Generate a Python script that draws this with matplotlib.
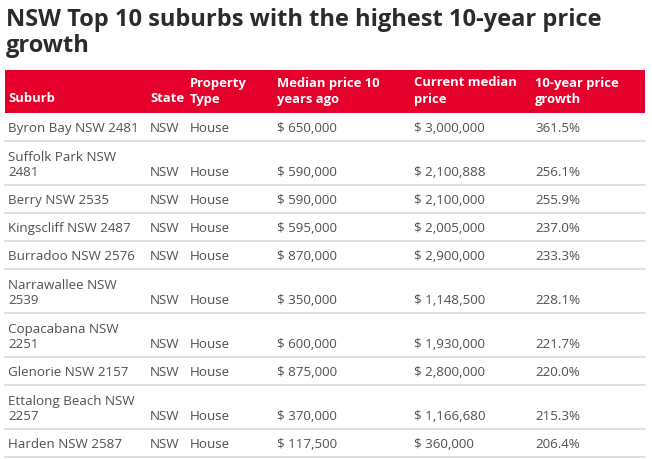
import matplotlib
matplotlib.use("Agg")
import matplotlib.pyplot as plt
from matplotlib.patches import Rectangle

# ---- data ----
title_lines = ["NSW Top 10 suburbs with the highest 10-year price", "growth"]
headers = [["Suburb"], ["State"], ["Property", "Type"], ["Median price 10", "years ago"],
           ["Current median", "price"], ["10-year price", "growth"]]
suburbs = ["Byron Bay NSW 2481", "Suffolk Park NSW 2481", "Berry NSW 2535", "Kingscliff NSW 2487",
           "Burradoo NSW 2576", "Narrawallee NSW 2539", "Copacabana NSW 2251", "Glenorie NSW 2157",
           "Ettalong Beach NSW 2257", "Harden NSW 2587"]
states = ["NSW"] * 10
property_types = ["House"] * 10
median_10y = [650000, 590000, 590000, 595000, 870000, 350000, 600000, 875000, 370000, 117500]
current_median = [3000000, 2100888, 2100000, 2005000, 2900000, 1148500, 1930000, 2800000, 1166680, 360000]
growth_pct = [361.5, 256.1, 255.9, 237.0, 233.3, 228.1, 221.7, 220.0, 215.3, 206.4]

# ---- layout ----
W, H = 652, 460
fig = plt.figure(figsize=(W / 100, H / 100), dpi=100)
ax = fig.add_axes([0, 0, 1, 1])
ax.set_xlim(0, W)
ax.set_ylim(H, 0)
ax.axis("off")

FONT = "Open Sans"
RED = "#e4002b"
TXT = "#505050"
col_x = [8, 150, 190, 277, 414, 535]
left, right = 5, 645
FS = 9.6

# title
for i, line in enumerate(title_lines):
    ax.text(6, 19.5 + i * 26, line, fontsize=17, fontweight="bold", color="#2b2b2b",
            family=FONT, va="center", ha="left")

# header
hdr_top, hdr_bot = 71, 114
ax.add_patch(Rectangle((left, hdr_top), right - left, hdr_bot - hdr_top, color=RED, lw=0))
for x, lines in zip(col_x, headers):
    n = len(lines)
    for j, t in enumerate(lines):
        y = hdr_bot - 15 - (n - 1 - j) * 16
        ax.text(x, y, t, fontsize=9.4, fontweight="bold", color="white", family=FONT,
                va="center", ha="left")

# wrapping of suburb names by width
renderer = fig.canvas.get_renderer()
def width_px(s):
    t = ax.text(0, 0, s, fontsize=FS, family=FONT)
    w = t.get_window_extent(renderer).width
    t.remove()
    return w
scale = width_px("Byron Bay NSW 2481") / 131.0
limit = 137 * scale

def wrap(s):
    if width_px(s) <= limit:
        return [s]
    words = s.split(" ")
    return [" ".join(words[:-1]), words[-1]]

y = hdr_bot
for i in range(len(suburbs)):
    lines = wrap(suburbs[i])
    h = 28 if len(lines) == 1 else 44
    bottom = y + h
    last_y = bottom - 13.5
    for j, t in enumerate(lines):
        ax.text(col_x[0], last_y - (len(lines) - 1 - j) * 15, t, fontsize=FS, color=TXT,
                family=FONT, va="center", ha="left")
    cells = [states[i], property_types[i], f"$ {median_10y[i]:,}", f"$ {current_median[i]:,}",
             f"{growth_pct[i]:.1f}%"]
    for x, t in zip(col_x[1:], cells):
        ax.text(x, last_y, t, fontsize=FS, color=TXT, family=FONT, va="center", ha="left")
    ax.plot([left, right], [bottom, bottom], color="#d9d9d9", lw=1.2)
    y = bottom

fig.savefig("out.png", dpi=100, facecolor="white")
